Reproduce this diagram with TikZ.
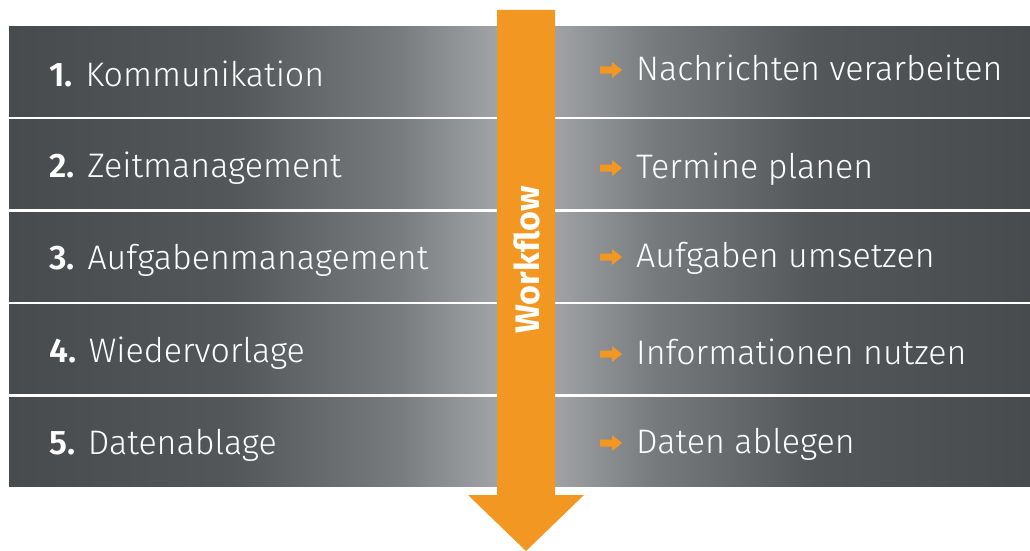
\documentclass[tikz,border=0pt]{standalone}
\usepackage{fontspec}
\setmainfont{Fira Sans}[UprightFont=* Light,BoldFont=* SemiBold]
\newfontfamily\wffont{Fira Sans}[UprightFont=* Bold]
\definecolor{wforange}{RGB}{242,151,33}
\definecolor{bardark}{RGB}{72,75,78}
\definecolor{barmid}{RGB}{84,87,90}
\definecolor{barhalf}{RGB}{120,123,126}
\definecolor{barlight}{RGB}{166,168,171}
% Balken: Pfad liegt im Bereich 25bp bis 75bp
\pgfdeclarehorizontalshading{balken}{100bp}{color(0bp)=(bardark); color(25bp)=(bardark);
	color(36bp)=(barmid); color(44bp)=(barhalf); color(49.5bp)=(barlight); color(51bp)=(barlight);
	color(56.5bp)=(barhalf); color(64.5bp)=(barmid); color(75bp)=(bardark); color(100bp)=(bardark)}
\begin{document}
\begin{tikzpicture}[x=1pt,y=-1pt,
	bar/.style={shading=balken},
	lbl/.style={anchor=base west,inner sep=0pt,text=white,font=\fontsize{34}{40}\selectfont}]
	\useasboundingbox (0,0) rectangle (1030,551);
	% die fuenf Balken
	\foreach \i/\yl/\yr/\l/\r in {1/86/80/Kommunikation/Nachrichten verarbeiten,
			2/177/178/Zeitmanagement/Termine planen,
			3/269/267/Aufgabenmanagement/Aufgaben umsetzen,
			4/362/364/Wiedervorlage/Informationen nutzen,
			5/454/453/Datenablage/Daten ablegen}{
		\shade[bar] (9,{27+(\i-1)*92.5}) rectangle (1030,{116+(\i-1)*92.5});
		\node[lbl] (links\i) at (49,\yl) {\textbf{\i.} \l};
		\node[lbl] (rechts\i) at (636,\yr) {\r};
		\fill[wforange] (600,\yr-13.5) -- (612,\yr-13.5) -- (612,\yr-18) -- (622,\yr-10) -- (612,\yr-2) -- (612,\yr-6.5) -- (600,\yr-6.5) -- cycle;
	}
	% Pfeil
	\fill[wforange] (497,10) -- (555,10) -- (555,495) -- (584,495) -- (526,551) -- (468,495) -- (497,495) -- cycle;
	\node[rotate=90,text=white,font=\fontsize{34}{40}\wffont] (workflow) at (527,260) {Workflow};
\end{tikzpicture}
\end{document}
